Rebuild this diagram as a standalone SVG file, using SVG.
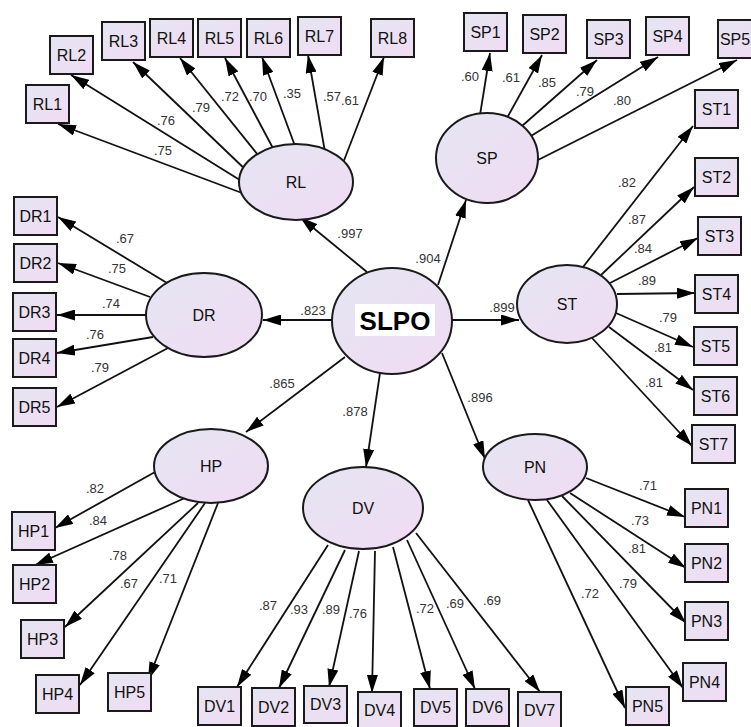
<svg xmlns="http://www.w3.org/2000/svg" width="751" height="727" viewBox="0 0 751 727">
<style>
.bx{fill:url(#g);stroke:#1a1a1a;stroke-width:2}
.el{fill:url(#g);stroke:#1a1a1a;stroke-width:2}
.t{font-family:"Liberation Sans",Arial,sans-serif;font-size:16px;fill:#111;text-anchor:middle}
.n{font-family:"Liberation Sans",Arial,sans-serif;font-size:13px;fill:#333;text-anchor:middle}
.c line{stroke:#111;stroke-width:1.8;marker-end:url(#a)}
</style>
<defs>
<linearGradient id="g" x1="0" y1="0" x2="1" y2="1">
<stop offset="0" stop-color="#e4e6f2"/>
<stop offset="1" stop-color="#f1dbf3"/>
</linearGradient>
<marker id="a" markerUnits="userSpaceOnUse" markerWidth="18" markerHeight="11" refX="18" refY="5.5" orient="auto">
<path d="M0,0 L18,5.5 L0,11 z" fill="#000"/>
</marker>
</defs>
<rect width="751" height="727" fill="#fff"/>
<g class="c" id="connectors">
<line x1="250" y1="196" x2="58" y2="124"/>
<line x1="243" y1="182" x2="71" y2="75"/>
<line x1="248" y1="172" x2="133" y2="62"/>
<line x1="262" y1="160" x2="180" y2="58"/>
<line x1="275" y1="152" x2="225" y2="58"/>
<line x1="295" y1="146" x2="262" y2="57"/>
<line x1="325" y1="152" x2="308" y2="55"/>
<line x1="343" y1="163" x2="384" y2="57"/>
<line x1="480" y1="115" x2="490" y2="53"/>
<line x1="507" y1="118" x2="542" y2="55"/>
<line x1="522" y1="126" x2="597" y2="60"/>
<line x1="531" y1="136" x2="658" y2="57"/>
<line x1="538" y1="160" x2="737" y2="60"/>
<line x1="583" y1="267" x2="693" y2="126"/>
<line x1="601" y1="275" x2="694" y2="187"/>
<line x1="610" y1="283" x2="698" y2="238"/>
<line x1="617" y1="294" x2="695" y2="293"/>
<line x1="616" y1="313" x2="693" y2="347"/>
<line x1="609" y1="327" x2="693" y2="390"/>
<line x1="592" y1="338" x2="692" y2="446"/>
<line x1="167" y1="283" x2="58" y2="217"/>
<line x1="150" y1="297" x2="58" y2="263"/>
<line x1="146" y1="315" x2="57" y2="315"/>
<line x1="153" y1="337" x2="57" y2="353"/>
<line x1="168" y1="348" x2="57" y2="407"/>
<line x1="155" y1="472" x2="55" y2="528"/>
<line x1="185" y1="498" x2="35" y2="565"/>
<line x1="198" y1="503" x2="65" y2="627"/>
<line x1="205" y1="503" x2="80" y2="685"/>
<line x1="218" y1="503" x2="148" y2="680"/>
<line x1="328" y1="545" x2="237" y2="687"/>
<line x1="345" y1="550" x2="279" y2="688"/>
<line x1="359" y1="551" x2="329" y2="687"/>
<line x1="375" y1="551" x2="372" y2="693"/>
<line x1="393" y1="547" x2="430" y2="689"/>
<line x1="407" y1="540" x2="475" y2="689"/>
<line x1="416" y1="533" x2="540" y2="692"/>
<line x1="586" y1="478" x2="685" y2="517"/>
<line x1="570" y1="493" x2="686" y2="568"/>
<line x1="562" y1="496" x2="686" y2="623"/>
<line x1="547" y1="500" x2="683" y2="688"/>
<line x1="528" y1="500" x2="625" y2="708"/>
<line x1="367" y1="272" x2="300" y2="217"/>
<line x1="438" y1="285" x2="466" y2="200"/>
<line x1="332" y1="320" x2="263" y2="320"/>
<line x1="452" y1="320" x2="519" y2="320"/>
<line x1="345" y1="357" x2="246" y2="432"/>
<line x1="380" y1="373" x2="366" y2="467"/>
<line x1="442" y1="353" x2="485" y2="459"/>
</g>
<g id="labels">
<text class="n" x="163" y="155">.75</text>
<text class="n" x="166" y="125">.76</text>
<text class="n" x="201" y="112">.79</text>
<text class="n" x="230" y="101">.72</text>
<text class="n" x="258" y="101">.70</text>
<text class="n" x="292" y="98">.35</text>
<text class="n" x="332" y="101">.57</text>
<text class="n" x="350" y="105">.61</text>
<text class="n" x="470" y="81">.60</text>
<text class="n" x="511" y="82">.61</text>
<text class="n" x="547" y="87">.85</text>
<text class="n" x="585" y="96">.79</text>
<text class="n" x="622" y="105">.80</text>
<text class="n" x="627" y="187">.82</text>
<text class="n" x="637" y="224">.87</text>
<text class="n" x="643" y="253">.84</text>
<text class="n" x="647" y="285">.89</text>
<text class="n" x="668" y="322">.79</text>
<text class="n" x="663" y="352">.81</text>
<text class="n" x="654" y="387">.81</text>
<text class="n" x="125" y="243">.67</text>
<text class="n" x="117" y="273">.75</text>
<text class="n" x="111" y="308">.74</text>
<text class="n" x="95" y="339">.76</text>
<text class="n" x="100" y="372">.79</text>
<text class="n" x="95" y="493">.82</text>
<text class="n" x="98" y="525">.84</text>
<text class="n" x="118" y="560">.78</text>
<text class="n" x="129" y="588">.67</text>
<text class="n" x="168" y="583">.71</text>
<text class="n" x="268" y="610">.87</text>
<text class="n" x="299" y="614">.93</text>
<text class="n" x="331" y="614">.89</text>
<text class="n" x="358" y="618">.76</text>
<text class="n" x="425" y="613">.72</text>
<text class="n" x="455" y="608">.69</text>
<text class="n" x="492" y="605">.69</text>
<text class="n" x="648" y="490">.71</text>
<text class="n" x="640" y="525">.73</text>
<text class="n" x="637" y="553">.81</text>
<text class="n" x="628" y="588">.79</text>
<text class="n" x="590" y="598">.72</text>
<text class="n" x="350" y="238">.997</text>
<text class="n" x="428" y="263">.904</text>
<text class="n" x="313" y="315">.823</text>
<text class="n" x="502" y="312">.899</text>
<text class="n" x="282" y="388">.865</text>
<text class="n" x="355" y="416">.878</text>
<text class="n" x="480" y="402">.896</text>
</g>
<g id="RL"><ellipse class="el" cx="296" cy="182" rx="57" ry="38"/><text class="t" x="296" y="188">RL</text></g>
<g id="SP"><ellipse class="el" cx="487" cy="158" rx="51" ry="45"/><text class="t" x="487" y="164">SP</text></g>
<g id="ST"><ellipse class="el" cx="567" cy="304" rx="50" ry="39"/><text class="t" x="567" y="310">ST</text></g>
<g id="DR"><ellipse class="el" cx="204" cy="315" rx="58" ry="42"/><text class="t" x="204" y="321">DR</text></g>
<g id="HP"><ellipse class="el" cx="211" cy="466" rx="57" ry="37"/><text class="t" x="211" y="472">HP</text></g>
<g id="DV"><ellipse class="el" cx="363" cy="508" rx="60" ry="41"/><text class="t" x="363" y="514">DV</text></g>
<g id="PN"><ellipse class="el" cx="535" cy="467" rx="52" ry="33"/><text class="t" x="535" y="473">PN</text></g>
<g id="SLPO"><ellipse class="el" cx="392" cy="321" rx="60" ry="53"/><rect x="355" y="304" width="80" height="32" fill="#fff"/><text x="395" y="330" font-family="Liberation Sans,Arial,sans-serif" font-size="26" font-weight="bold" text-anchor="middle" fill="#000">SLPO</text></g>
<g id="RL1"><rect class="bx" x="26" y="85" width="43" height="38"/><text class="t" x="47.5" y="110">RL1</text></g>
<g id="RL2"><rect class="bx" x="50" y="36" width="43" height="38"/><text class="t" x="71.5" y="61">RL2</text></g>
<g id="RL3"><rect class="bx" x="102" y="22" width="43" height="38"/><text class="t" x="123.5" y="47">RL3</text></g>
<g id="RL4"><rect class="bx" x="150" y="19" width="43" height="38"/><text class="t" x="171.5" y="44">RL4</text></g>
<g id="RL5"><rect class="bx" x="198" y="19" width="43" height="38"/><text class="t" x="219.5" y="44">RL5</text></g>
<g id="RL6"><rect class="bx" x="247" y="19" width="43" height="38"/><text class="t" x="268.5" y="44">RL6</text></g>
<g id="RL7"><rect class="bx" x="298" y="17" width="43" height="38"/><text class="t" x="319.5" y="42">RL7</text></g>
<g id="RL8"><rect class="bx" x="371" y="19" width="43" height="38"/><text class="t" x="392.5" y="44">RL8</text></g>
<g id="SP1"><rect class="bx" x="464" y="13" width="43" height="38"/><text class="t" x="485.5" y="38">SP1</text></g>
<g id="SP2"><rect class="bx" x="523" y="15" width="43" height="38"/><text class="t" x="544.5" y="40">SP2</text></g>
<g id="SP3"><rect class="bx" x="587" y="20" width="43" height="38"/><text class="t" x="608.5" y="45">SP3</text></g>
<g id="SP4"><rect class="bx" x="646" y="17" width="43" height="38"/><text class="t" x="667.5" y="42">SP4</text></g>
<g id="SP5"><rect class="bx" x="718" y="20" width="43" height="38"/><text class="t" x="735" y="45">SP5</text></g>
<g id="ST1"><rect class="bx" x="695" y="90" width="43" height="38"/><text class="t" x="716.5" y="115">ST1</text></g>
<g id="ST2"><rect class="bx" x="695" y="158" width="43" height="38"/><text class="t" x="716.5" y="183">ST2</text></g>
<g id="ST3"><rect class="bx" x="698" y="217" width="43" height="38"/><text class="t" x="719.5" y="242">ST3</text></g>
<g id="ST4"><rect class="bx" x="695" y="275" width="43" height="38"/><text class="t" x="716.5" y="300">ST4</text></g>
<g id="ST5"><rect class="bx" x="694" y="327" width="43" height="38"/><text class="t" x="715.5" y="352">ST5</text></g>
<g id="ST6"><rect class="bx" x="694" y="377" width="43" height="38"/><text class="t" x="715.5" y="402">ST6</text></g>
<g id="ST7"><rect class="bx" x="692" y="425" width="43" height="38"/><text class="t" x="713.5" y="450">ST7</text></g>
<g id="PN1"><rect class="bx" x="685" y="489" width="43" height="38"/><text class="t" x="706.5" y="514">PN1</text></g>
<g id="PN2"><rect class="bx" x="685" y="544" width="43" height="38"/><text class="t" x="706.5" y="569">PN2</text></g>
<g id="PN3"><rect class="bx" x="685" y="602" width="43" height="38"/><text class="t" x="706.5" y="627">PN3</text></g>
<g id="PN4"><rect class="bx" x="683" y="663" width="43" height="38"/><text class="t" x="704.5" y="688">PN4</text></g>
<g id="PN5"><rect class="bx" x="626" y="687" width="43" height="38"/><text class="t" x="647.5" y="712">PN5</text></g>
<g id="DV1"><rect class="bx" x="198" y="687" width="43" height="38"/><text class="t" x="219.5" y="712">DV1</text></g>
<g id="DV2"><rect class="bx" x="252" y="688" width="43" height="38"/><text class="t" x="273.5" y="713">DV2</text></g>
<g id="DV3"><rect class="bx" x="304" y="686" width="43" height="37"/><text class="t" x="325.5" y="710">DV3</text></g>
<g id="DV4"><rect class="bx" x="358" y="692" width="43" height="36"/><text class="t" x="379.5" y="716">DV4</text></g>
<g id="DV5"><rect class="bx" x="414" y="689" width="43" height="37"/><text class="t" x="435.5" y="713">DV5</text></g>
<g id="DV6"><rect class="bx" x="466" y="689" width="43" height="37"/><text class="t" x="487.5" y="713">DV6</text></g>
<g id="DV7"><rect class="bx" x="518" y="692" width="43" height="36"/><text class="t" x="539.5" y="716">DV7</text></g>
<g id="HP1"><rect class="bx" x="12" y="512" width="43" height="38"/><text class="t" x="33.5" y="537">HP1</text></g>
<g id="HP2"><rect class="bx" x="13" y="565" width="43" height="38"/><text class="t" x="34.5" y="590">HP2</text></g>
<g id="HP3"><rect class="bx" x="21" y="620" width="43" height="38"/><text class="t" x="42.5" y="645">HP3</text></g>
<g id="HP4"><rect class="bx" x="36" y="675" width="43" height="38"/><text class="t" x="57.5" y="700">HP4</text></g>
<g id="HP5"><rect class="bx" x="108" y="673" width="43" height="38"/><text class="t" x="129.5" y="698">HP5</text></g>
<g id="DR1"><rect class="bx" x="14" y="197" width="43" height="38"/><text class="t" x="35.5" y="222">DR1</text></g>
<g id="DR2"><rect class="bx" x="14" y="244" width="43" height="38"/><text class="t" x="35.5" y="269">DR2</text></g>
<g id="DR3"><rect class="bx" x="13" y="293" width="43" height="38"/><text class="t" x="34.5" y="318">DR3</text></g>
<g id="DR4"><rect class="bx" x="13" y="339" width="43" height="38"/><text class="t" x="34.5" y="364">DR4</text></g>
<g id="DR5"><rect class="bx" x="13" y="388" width="43" height="38"/><text class="t" x="34.5" y="413">DR5</text></g>
</svg>
